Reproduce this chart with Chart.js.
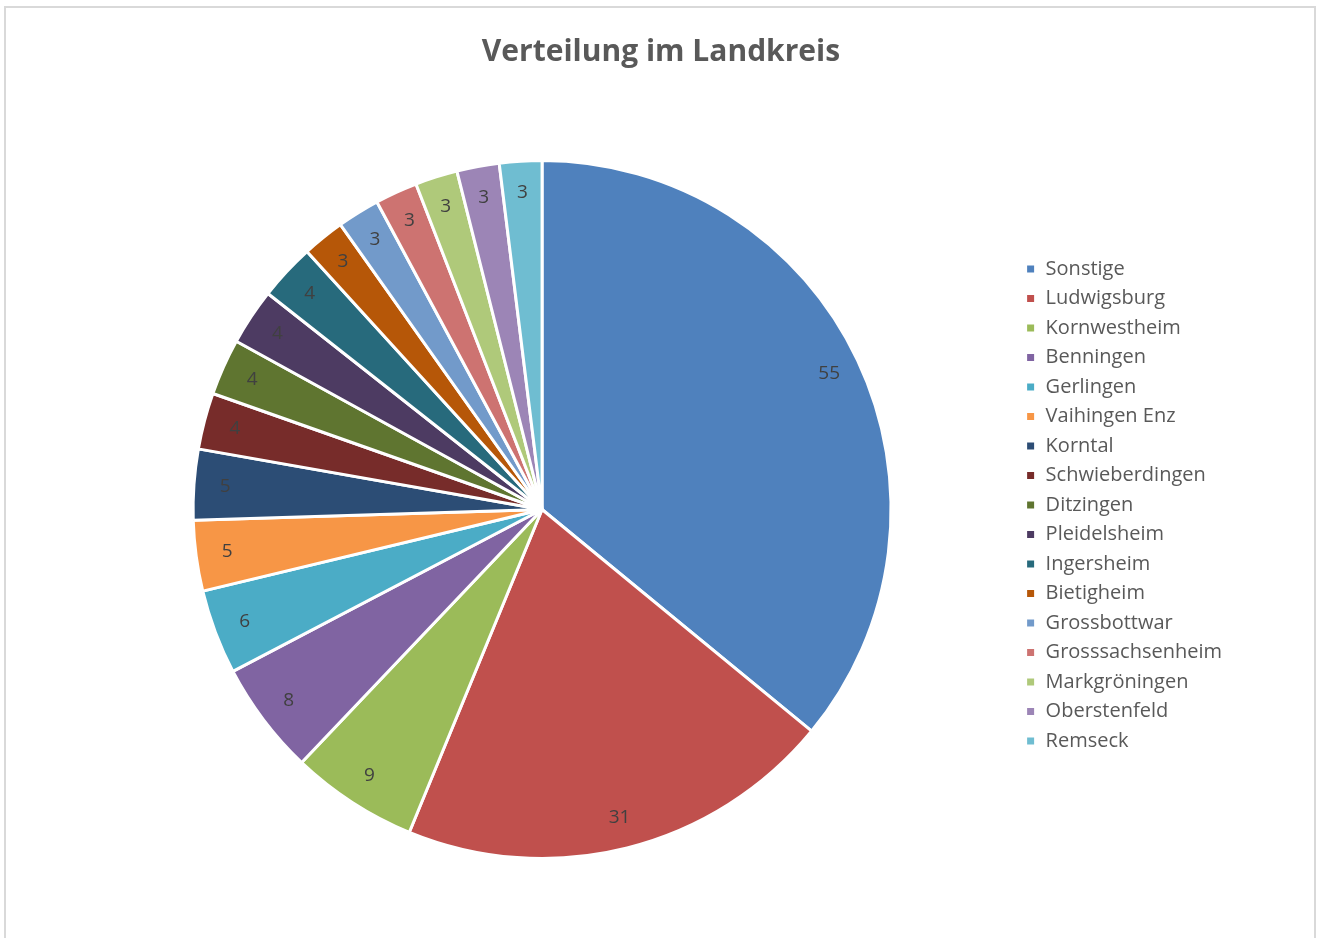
<!DOCTYPE html>
<html>
<head>
<meta charset="utf-8">
<script src="https://cdn.jsdelivr.net/npm/chart.js@4.4.1/dist/chart.umd.min.js"></script>
<style>
  html, body { margin: 0; padding: 0; background: #fff; }
  #frame { position: absolute; left: 4px; top: 6px; width: 1312px; height: 940px; border: 2px solid #d9d9d9; border-bottom: none; box-sizing: border-box; }
  #wrap { position: absolute; left: 0; top: 0; width: 1320px; height: 938px; }
</style>
</head>
<body>
<div id="frame"></div>
<div id="wrap"><canvas id="c" width="1320" height="938"></canvas></div>
<script>
const categories = ["Sonstige","Ludwigsburg","Kornwestheim","Benningen","Gerlingen","Vaihingen Enz","Korntal","Schwieberdingen","Ditzingen","Pleidelsheim","Ingersheim","Bietigheim","Grossbottwar","Grosssachsenheim","Markgröningen","Oberstenfeld","Remseck"];
const values = [55,31,9,8,6,5,5,4,4,4,4,3,3,3,3,3,3];
const colors = ["#4F81BD","#C0504D","#9BBB59","#8064A2","#4BACC6","#F79646","#2C4D75","#772C2A","#5F7530","#4D3B62","#276A7C","#B65708","#729ACA","#CD7371","#AFC97A","#9C85B6","#6FBDD1"];
const titleText = "Verteilung im Landkreis";

const labelPlugin = {
  id: 'sliceLabels',
  afterLayout(chart) {
    chart.legend.top += 75;
    chart.legend.bottom += 75;
    chart.titleBlock.left += 11;
    chart.titleBlock.right += 11;
  },
  afterDatasetsDraw(chart) {
    const ctx = chart.ctx;
    const meta = chart.getDatasetMeta(0);
    ctx.save();
    ctx.font = '19px "Open Sans", sans-serif';
    ctx.fillStyle = '#404040';
    ctx.textAlign = 'center';
    ctx.textBaseline = 'middle';
    meta.data.forEach((arc, i) => {
      const p = arc.getProps(['x','y','startAngle','endAngle','outerRadius'], true);
      const mid = (p.startAngle + p.endAngle) / 2;
      const r = p.outerRadius * 0.91;
      ctx.fillText(String(chart.data.datasets[0].data[i]), p.x + Math.cos(mid) * r, p.y + Math.sin(mid) * r);
    });
    ctx.restore();
  }
};

new Chart(document.getElementById('c'), {
  type: 'pie',
  data: {
    labels: categories,
    datasets: [{
      data: values,
      backgroundColor: colors,
      borderColor: '#ffffff',
      borderWidth: 3
    }]
  },
  options: {
    responsive: false,
    animation: false,
    layout: { padding: { left: 68, right: 88, top: 0, bottom: 78 } },
    plugins: {
      title: {
        display: true,
        text: titleText,
        color: '#595959',
        font: { family: '"Open Sans", sans-serif', size: 30, weight: 'bold' },
        padding: { top: 34, bottom: 89 }
      },
      legend: {
        position: 'right',
        align: 'center',
        labels: {
          color: '#595959',
          font: { family: '"Open Sans", sans-serif', size: 20 },
          boxWidth: 10,
          boxHeight: 10,
          padding: 9.5
        }
      },
      tooltip: { enabled: false }
    }
  },
  plugins: [labelPlugin]
});
</script>
</body>
</html>
